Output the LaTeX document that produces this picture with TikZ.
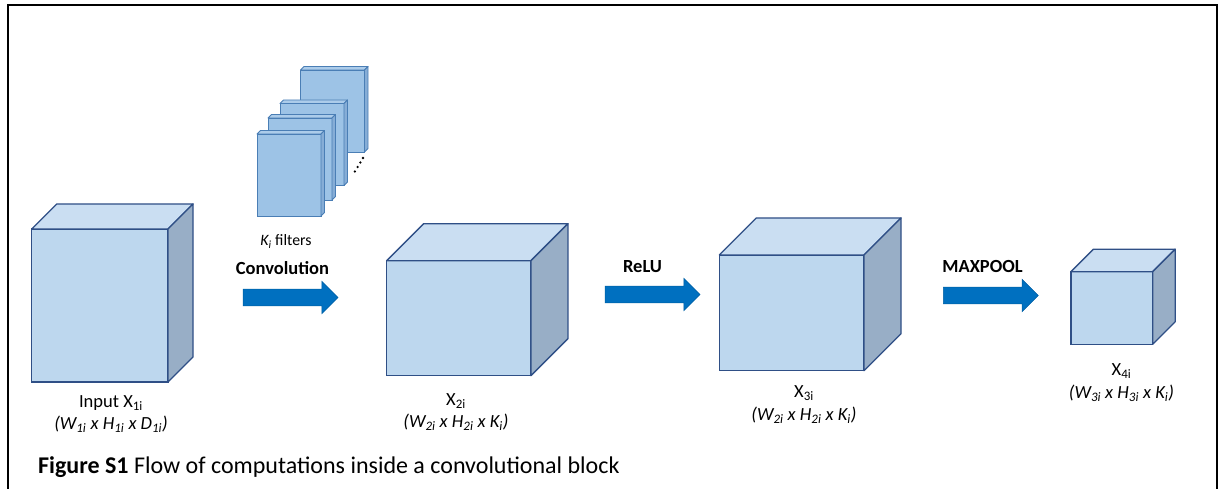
\documentclass[tikz,border=0pt]{standalone}
\usepackage{fontspec}
\setmainfont{Carlito}
\usetikzlibrary{shapes.arrows,calc}
\definecolor{cubefrontc}{HTML}{BDD7EE}
\definecolor{cubetopc}{HTML}{CADEF2}
\definecolor{cubesidec}{HTML}{98AEC6}
\definecolor{cubeedgec}{HTML}{2F4F86}
\definecolor{filterc}{HTML}{9DC3E6}
\definecolor{filtersidec}{HTML}{86ADD6}
\definecolor{filteredgec}{HTML}{4A7EB5}
\definecolor{arrowc}{HTML}{0070C0}
\newcommand{\cubebox}[6]{% name, cx, cy, w, h, d
  \node[cubefront, minimum width=#4pt, minimum height=#5pt] (#1) at (#2,#3) {};
  \draw[cubeedge, fill=cubetopc] (#1.north west) -- ++(#6,-#6) -- ++(#4,0) -- (#1.north east) -- cycle;
  \draw[cubeedge, fill=cubesidec] (#1.north east) -- ++(#6,-#6) -- ++(0,#5) -- (#1.south east) -- cycle;
}
\newcommand{\filterbox}[4]{% name, left x, top y, depth
  \node[filterfront, anchor=north west] (#1) at (#2,#3) {};
  \draw[filteredge, fill=filterc!85!white] (#1.north west) -- ++(#4,-#4) -- ++(64,0) -- (#1.north east) -- cycle;
  \draw[filteredge, fill=filtersidec] (#1.north east) -- ++(#4,-#4) -- ++(0,82) -- (#1.south east) -- cycle;
}
\begin{document}
\begin{tikzpicture}[x=1pt, y=-1pt,
  cubefront/.style={draw=cubeedgec, fill=cubefrontc, line width=1.3pt, inner sep=0pt, outer sep=0pt, rectangle},
  cubeedge/.style={draw=cubeedgec, line width=1.3pt, line join=round},
  filterfront/.style={draw=filteredgec, fill=filterc, line width=0.9pt, inner sep=0pt, outer sep=0pt, minimum width=64pt, minimum height=82pt},
  filteredge/.style={draw=filteredgec, line width=0.9pt, line join=round},
  blockarrow/.style={single arrow, fill=arrowc, draw=arrowc!85!black, line width=0.5pt, inner xsep=0pt, inner ysep=8.2pt, outer sep=0pt,
    minimum height=95pt, single arrow head extend=7.8pt, single arrow tip angle=90, anchor=tail},
  lbl/.style={font=\fontsize{18.5}{22.5}\selectfont, align=center, inner sep=0pt},
  oplbl/.style={font=\fontsize{18.5}{22}\selectfont\bfseries, inner sep=0pt},
  ]
\useasboundingbox (0,0) rectangle (1219,489);
% frame
\draw[line width=2pt] (7.5,489) -- (7.5,5.5) -- (1216.5,5.5) -- (1216.5,489);

% cubes
\cubebox{xone}{99.9}{305.5}{136.3}{153}{25}
\cubebox{xtwo}{458.8}{318.2}{144.3}{115}{37}
\cubebox{xthree}{791.7}{312.8}{144.7}{115.7}{37}
\cubebox{xfour}{1111.8}{308}{81.7}{72.6}{22.5}

% filters
\filterbox{ffour}{300.5}{70}{3.5}
\filterbox{fthree}{280}{103.5}{3.5}
\filterbox{ftwo}{268}{118}{3.5}
\filterbox{fone}{257}{134}{3.5}
\foreach \t in {0.1,0.4,0.7,1.0}
  \fill ($(354,173)!\t!(363,158)$) circle (1.3pt);

% arrows
\node[blockarrow] (aconv) at (243,297.5) {};
\node[blockarrow] (arelu) at (605,294.5) {};
\node[blockarrow] (apool) at (943.3,295.5) {};

% operation labels
\node[oplbl] (lconv) at (282.5,268.5) {Convolution};
\node[oplbl] (lrelu) at (642.5,267) {ReLU};
\node[oplbl] (lpool) at (982.5,266.5) {MAXPOOL};
\node[lbl, font=\fontsize{15.8}{19}\selectfont] (lfilt) at (286,241.5) {\textit{K\textsubscript{i}} filters};

% cube labels
\node[lbl] (tone) at (111,414) {Input X\textsubscript{1i}\\\textit{(W\textsubscript{1i} x H\textsubscript{1i} x D\textsubscript{1i})}};
\node[lbl] (ttwo) at (456,412) {X\textsubscript{2i}\\\textit{(W\textsubscript{2i} x H\textsubscript{2i} x K\textsubscript{i})}};
\node[lbl] (tthree) at (804,404.5) {X\textsubscript{3i}\\\textit{(W\textsubscript{2i} x H\textsubscript{2i} x K\textsubscript{i})}};
\node[lbl] (tfour) at (1121.5,382.5) {X\textsubscript{4i}\\\textit{(W\textsubscript{3i} x H\textsubscript{3i} x K\textsubscript{i})}};

% caption
\node[anchor=west, inner sep=0pt, font=\fontsize{24}{28}\selectfont] (cap) at (38,467) {\textbf{Figure S1} Flow of computations inside a convolutional block};
\end{tikzpicture}
\end{document}
